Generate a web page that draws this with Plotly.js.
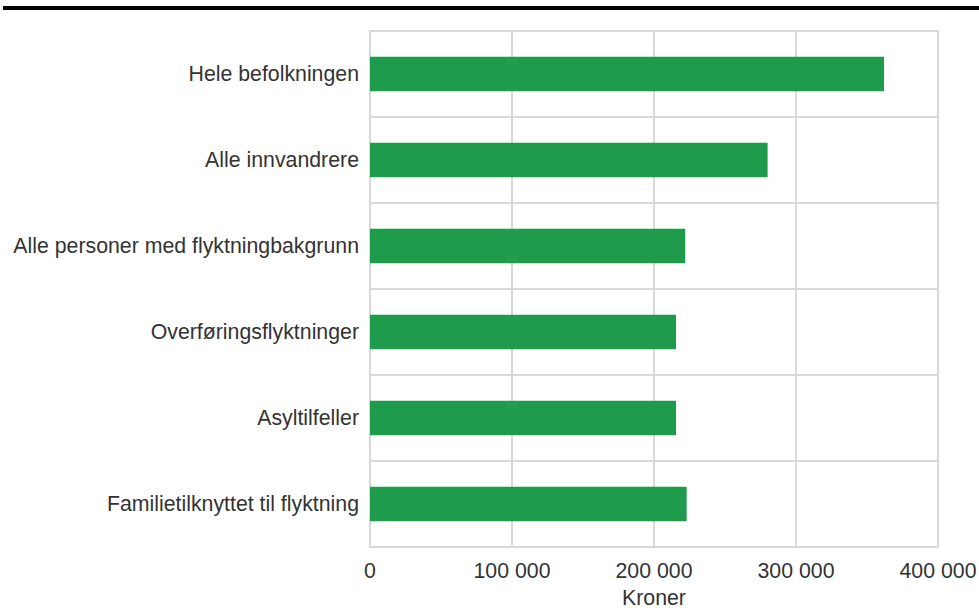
<!DOCTYPE html>
<html>
<head>
<meta charset="utf-8">
<script src="https://cdn.plot.ly/plotly-3.0.1.min.js"></script>
<style>html,body{margin:0;padding:0;background:#fff;}#chart{width:979px;height:610px;}</style>
</head>
<body>
<div id="chart"></div>
<script>
const categories = [
  "Hele befolkningen",
  "Alle innvandrere",
  "Alle personer med flyktningbakgrunn",
  "Overføringsflyktninger",
  "Asyltilfeller",
  "Familietilknyttet til flyktning"
];
const values = [362000, 280000, 222000, 215500, 215500, 223000];
const xTickVals = [0, 100000, 200000, 300000, 400000];
const xTickText = ["0", "100 000", "200 000", "300 000", "400 000"];

const trace = {
  type: "bar",
  orientation: "h",
  y: categories,
  x: values,
  marker: {color: "#1e9b4b"},
  width: 0.4,
  hoverinfo: "x+y"
};

const border = {color: "#d9d9d9", width: 2};

const layout = {
  width: 979,
  height: 610,
  margin: {l: 370, r: 41, t: 31, b: 63},
  paper_bgcolor: "#fff",
  plot_bgcolor: "#fff",
  showlegend: false,
  font: {family: "Liberation Sans, Arial, sans-serif", size: 21.3, color: "#333"},
  xaxis: {
    range: [0, 400000],
    tickvals: xTickVals,
    ticktext: xTickText,
    showgrid: true,
    gridcolor: "#d9d9d9",
    gridwidth: 2,
    zeroline: false,
    showline: false,
    ticks: "",
    ticklabelstandoff: 9,
    title: {text: "Kroner", font: {size: 21.3, color: "#333"}, standoff: 8},
    fixedrange: true
  },
  yaxis: {
    type: "category",
    autorange: "reversed",
    tickson: "boundaries",
    showgrid: true,
    gridcolor: "#d9d9d9",
    gridwidth: 2,
    zeroline: false,
    showline: false,
    ticks: "",
    ticklabelstandoff: 10,
    fixedrange: true
  },
  shapes: [
    {type: "line", xref: "paper", yref: "paper",
     x0: -367/568, x1: 609/568, y0: 1 + 23/516, y1: 1 + 23/516,
     line: {color: "#000", width: 4}},
    {type: "rect", xref: "paper", yref: "paper", x0: 0, x1: 1, y0: 0, y1: 1,
     line: border, fillcolor: "rgba(0,0,0,0)", layer: "below"}
  ]
};

Plotly.newPlot("chart", [trace], layout, {displayModeBar: false, staticPlot: true});
</script>
</body>
</html>
